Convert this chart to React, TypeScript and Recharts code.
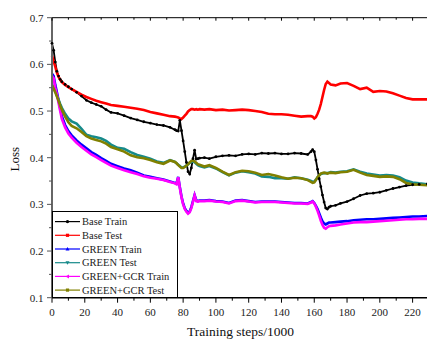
import React from "react";
import { LineChart, Line, XAxis, YAxis, Legend, Label } from "recharts";

// training step (x1000) at which each value was read
const steps = [
  0, 1, 2, 3, 4, 5, 6, 8, 10, 12,
  15, 18, 21, 24, 27, 30, 33, 36, 40, 44,
  48, 52, 56, 60, 64, 68, 72, 75, 76, 77,
  78, 79, 80, 81, 82, 83, 84, 85, 86, 87,
  88, 89, 90, 93, 96, 100, 104, 108, 112, 116,
  120, 124, 128, 132, 136, 140, 144, 148, 152, 156,
  158, 159, 160, 161, 162, 163, 164, 165, 166, 167,
  168, 169, 170, 173, 176, 180, 184, 188, 192, 196,
  200, 204, 208, 212, 216, 220, 224, 229,
];

const baseTrain = [
  0.645, 0.63, 0.605, 0.585, 0.575, 0.568, 0.563, 0.557, 0.552, 0.547,
  0.54, 0.532, 0.523, 0.518, 0.514, 0.51, 0.503, 0.497, 0.495, 0.49,
  0.485, 0.481, 0.477, 0.474, 0.471, 0.469, 0.465, 0.46, 0.458, 0.457,
  0.48, 0.458, 0.436, 0.413, 0.39, 0.37, 0.365, 0.378, 0.398, 0.416,
  0.397, 0.398, 0.399, 0.4, 0.398, 0.402, 0.404, 0.405, 0.404, 0.407,
  0.408, 0.407, 0.41, 0.409, 0.41, 0.408, 0.408, 0.41, 0.409, 0.407,
  0.413, 0.417, 0.413, 0.395, 0.375, 0.355, 0.338, 0.32, 0.305, 0.292,
  0.29, 0.294, 0.296, 0.298, 0.302, 0.306, 0.312, 0.319, 0.323, 0.324,
  0.326, 0.33, 0.334, 0.337, 0.34, 0.342, 0.343, 0.344,
];

const baseTest = [
  0.618, 0.607, 0.595, 0.582, 0.573, 0.567, 0.562, 0.556, 0.551, 0.547,
  0.541, 0.535, 0.53, 0.526, 0.522, 0.519, 0.516, 0.513, 0.511, 0.509,
  0.507, 0.505, 0.502, 0.498, 0.495, 0.492, 0.489, 0.488, 0.487, 0.486,
  0.484, 0.483, 0.486, 0.49, 0.494, 0.499, 0.502, 0.504, 0.504, 0.503,
  0.504, 0.503, 0.504, 0.503, 0.504, 0.502, 0.503, 0.501, 0.502, 0.503,
  0.502, 0.5, 0.498, 0.494, 0.493, 0.493, 0.492, 0.49, 0.488, 0.489,
  0.489, 0.488, 0.484, 0.487, 0.494, 0.503, 0.515, 0.53, 0.545, 0.558,
  0.563, 0.56, 0.557, 0.555, 0.559, 0.56, 0.554, 0.547, 0.55, 0.541,
  0.543, 0.542, 0.538, 0.533, 0.528, 0.525, 0.525, 0.525,
];

const greenTrain = [
  0.58, 0.575, 0.556, 0.54, 0.523, 0.506, 0.489, 0.47, 0.457, 0.448,
  0.437, 0.428, 0.42, 0.412, 0.406, 0.399, 0.393, 0.387, 0.382, 0.377,
  0.373, 0.368, 0.362, 0.359, 0.356, 0.353, 0.349, 0.346, 0.345, 0.359,
  0.337, 0.317, 0.302, 0.292, 0.286, 0.282, 0.285, 0.294, 0.307, 0.32,
  0.309, 0.307, 0.308, 0.308, 0.309, 0.307, 0.306, 0.303, 0.308, 0.309,
  0.307, 0.305, 0.306, 0.306, 0.306, 0.305, 0.304, 0.303, 0.303, 0.302,
  0.305, 0.307, 0.303, 0.297, 0.29, 0.281, 0.272, 0.264, 0.259, 0.257,
  0.259, 0.261, 0.261, 0.262, 0.263, 0.264, 0.266, 0.267, 0.268, 0.268,
  0.269, 0.27, 0.271, 0.272, 0.273, 0.274, 0.274, 0.275,
];

const greenTest = [
  0.557, 0.55, 0.542, 0.533, 0.524, 0.515, 0.507, 0.494, 0.484, 0.478,
  0.473, 0.462, 0.449, 0.446, 0.444, 0.441, 0.436, 0.428, 0.421, 0.419,
  0.412, 0.406, 0.402, 0.398, 0.392, 0.389, 0.395, 0.391, 0.388, 0.385,
  0.382, 0.379, 0.379, 0.381, 0.383, 0.386, 0.389, 0.391, 0.392, 0.39,
  0.387, 0.384, 0.382, 0.379, 0.382, 0.377, 0.369, 0.362, 0.368, 0.371,
  0.369, 0.366, 0.36, 0.359, 0.356, 0.356, 0.355, 0.358, 0.356, 0.353,
  0.35, 0.348, 0.349, 0.353, 0.358, 0.362, 0.365, 0.366, 0.367, 0.367,
  0.367, 0.368, 0.369, 0.368, 0.37, 0.371, 0.375, 0.37, 0.366, 0.364,
  0.362, 0.363, 0.362, 0.358, 0.351, 0.347, 0.345, 0.343,
];

const gcrTrain = [
  0.575, 0.57, 0.55, 0.535, 0.518, 0.5, 0.483, 0.465, 0.452, 0.443,
  0.432, 0.423, 0.415, 0.407, 0.401, 0.395, 0.389, 0.383, 0.378, 0.373,
  0.369, 0.365, 0.36, 0.357, 0.355, 0.352, 0.348, 0.345, 0.343, 0.358,
  0.335, 0.315, 0.3, 0.29, 0.284, 0.28, 0.283, 0.292, 0.305, 0.319,
  0.307, 0.306, 0.307, 0.307, 0.308, 0.306, 0.305, 0.302, 0.307, 0.308,
  0.306, 0.304, 0.305, 0.305, 0.305, 0.304, 0.303, 0.302, 0.302, 0.301,
  0.304, 0.306, 0.302, 0.295, 0.286, 0.276, 0.265, 0.256, 0.25, 0.248,
  0.251, 0.253, 0.254, 0.255, 0.257, 0.259, 0.261, 0.262, 0.262, 0.263,
  0.264, 0.265, 0.266, 0.267, 0.268, 0.268, 0.269, 0.269,
];

const gcrTest = [
  0.555, 0.548, 0.54, 0.531, 0.522, 0.512, 0.503, 0.488, 0.476, 0.468,
  0.463, 0.455, 0.446, 0.441, 0.438, 0.435, 0.43, 0.423, 0.418, 0.413,
  0.405, 0.401, 0.399, 0.395, 0.39, 0.387, 0.394, 0.391, 0.388, 0.384,
  0.381, 0.378, 0.378, 0.38, 0.383, 0.386, 0.39, 0.393, 0.394, 0.392,
  0.389, 0.386, 0.385, 0.381, 0.384, 0.378, 0.37, 0.363, 0.369, 0.372,
  0.371, 0.368, 0.363, 0.365, 0.362, 0.358, 0.355, 0.357, 0.356, 0.352,
  0.348, 0.346, 0.347, 0.352, 0.358, 0.362, 0.366, 0.367, 0.368, 0.367,
  0.366, 0.367, 0.368, 0.367, 0.369, 0.37, 0.374, 0.368, 0.363, 0.361,
  0.359, 0.36, 0.359, 0.354, 0.346, 0.343, 0.342, 0.341,
];

const xTicks = [0, 10, 20, 30, 40, 50, 60, 70, 80, 90, 100, 110, 120, 130, 140, 150, 160, 170, 180, 190, 200, 210, 220, 230];
const yTicks = [0.1, 0.15, 0.2, 0.25, 0.3, 0.35, 0.4, 0.45, 0.5, 0.55, 0.6, 0.65, 0.7];

const series = [
  { key: "baseTrain", name: "Base Train", color: "#000000", marker: "circle", values: baseTrain },
  { key: "baseTest", name: "Base Test", color: "#ff0000", marker: "square", values: baseTest },
  { key: "greenTrain", name: "GREEN Train", color: "#0000ff", marker: "up", values: greenTrain },
  { key: "greenTest", name: "GREEN Test", color: "#168a8a", marker: "down", values: greenTest },
  { key: "gcrTrain", name: "GREEN+GCR Train", color: "#ff00ff", marker: "left", values: gcrTrain },
  { key: "gcrTest", name: "GREEN+GCR Test", color: "#808000", marker: "square", values: gcrTest },
];

const data = steps.map((s, i) => {
  const row: Record<string, number> = { step: s };
  series.forEach((ser) => {
    row[ser.key] = ser.values[i];
  });
  return row;
});

const FONT = "Liberation Serif, Times New Roman, serif";

function BottomTick(props: any) {
  const { x, y, payload } = props;
  const v = payload.value;
  const major = v % 20 === 0;
  return (
    <g>
      <line x1={x} y1={y} x2={x} y2={y + (major ? 5 : 3)} stroke="#000" strokeWidth={1} />
      {major && v <= 220 && (
        <text x={x} y={y + 18.3} textAnchor="middle" style={{ fontFamily: FONT, fontSize: 11 }} fill="#222">
          {v}
        </text>
      )}
    </g>
  );
}

function TopTick(props: any) {
  const { x, y, payload } = props;
  const major = payload.value % 20 === 0;
  return <line x1={x} y1={y} x2={x} y2={y + (major ? 3 : 2)} stroke="#000" strokeWidth={1} />;
}

function LeftTick(props: any) {
  const { x, y, payload } = props;
  const v = payload.value;
  const major = Math.abs(v * 10 - Math.round(v * 10)) < 1e-6;
  return (
    <g>
      <line x1={x} y1={y} x2={x - (major ? 5 : 3)} y2={y} stroke="#555" strokeWidth={1} />
      {major && (
        <text x={x - 8.5} y={y + 3.8} textAnchor="end" style={{ fontFamily: FONT, fontSize: 11 }} fill="#222">
          {v.toFixed(1)}
        </text>
      )}
    </g>
  );
}

function Marker({ kind, x, y, color }: { kind: string; x: number; y: number; color: string }) {
  if (kind === "circle") return <circle cx={x} cy={y} r={1.7} fill={color} />;
  if (kind === "square") return <rect x={x - 1.6} y={y - 1.6} width={3.2} height={3.2} fill={color} />;
  if (kind === "up") return <polygon points={`${x},${y - 2} ${x - 2},${y + 1.5} ${x + 2},${y + 1.5}`} fill={color} />;
  if (kind === "down") return <polygon points={`${x},${y + 2} ${x - 2},${y - 1.5} ${x + 2},${y - 1.5}`} fill={color} />;
  return <polygon points={`${x - 2},${y} ${x + 1.5},${y - 2} ${x + 1.5},${y + 2}`} fill={color} />;
}

function LegendBox() {
  return (
    <svg width={126} height={87} style={{ display: "block" }}>
      <rect x={0.5} y={0.5} width={125} height={86} fill="#fff" stroke="#000" strokeWidth={1} />
      {series.map((s, i) => {
        const cy = 10.6 + i * 13.7;
        return (
          <g key={s.key}>
            <line x1={3} y1={cy} x2={28} y2={cy} stroke={s.color} strokeWidth={1.2} />
            <Marker kind={s.marker} x={15.5} y={cy} color={s.color} />
            <text x={30} y={cy + 3.7} style={{ fontFamily: FONT, fontSize: 10.5 }} fill="#222">
              {s.name}
            </text>
          </g>
        );
      })}
    </svg>
  );
}

export default function App() {
  return (
    <div style={{ position: "absolute", left: 0, top: 0, width: 427, height: 340, overflow: "hidden", background: "#fff" }}>
      <LineChart width={440} height={340} data={data} margin={{ top: 15.7, right: 11, bottom: 12.3, left: 12 }}>
        <XAxis
          xAxisId="b"
          type="number"
          dataKey="step"
          domain={[0, 230]}
          ticks={xTicks}
          interval={0}
          height={30}
          tickSize={0}
          tickMargin={0}
          tickLine={false}
          axisLine={{ stroke: "#000", strokeWidth: 1.5 }}
          tick={<BottomTick />}
        >
          <Label
            content={(p: any) => {
              const vb = p.viewBox;
              return (
                <text x={vb.x + vb.width / 2} y={vb.y + vb.height + 8.5} textAnchor="middle" style={{ fontFamily: FONT, fontSize: 13.5 }} fill="#111">
                  Training steps/1000
                </text>
              );
            }}
          />
        </XAxis>
        <XAxis
          xAxisId="t"
          orientation="top"
          type="number"
          dataKey="step"
          domain={[0, 230]}
          ticks={xTicks}
          interval={0}
          height={2}
          tickSize={0}
          tickMargin={0}
          tickLine={false}
          axisLine={{ stroke: "#000", strokeWidth: 1 }}
          tick={<TopTick />}
        />
        <YAxis
          type="number"
          domain={[0.1, 0.7]}
          ticks={yTicks}
          interval={0}
          width={40}
          tickSize={0}
          tickMargin={0}
          tickLine={false}
          axisLine={{ stroke: "#666", strokeWidth: 2 }}
          tick={<LeftTick />}
        >
          <Label
            content={(p: any) => {
              const vb = p.viewBox;
              const cx = vb.x + 3;
              const cy = vb.y + vb.height / 2 + 1.5;
              return (
                <text x={cx} y={cy} transform={`rotate(-90 ${cx} ${cy})`} textAnchor="middle" dominantBaseline="central" style={{ fontFamily: FONT, fontSize: 13 }} fill="#111">
                  Loss
                </text>
              );
            }}
          />
        </YAxis>
        {series.map((s) => (
          <Line
            key={s.key}
            xAxisId="b"
            type="linear"
            dataKey={s.key}
            name={s.name}
            stroke={s.color}
            strokeWidth={s.key === "baseTrain" ? 1.8 : 2.6}
            dot={s.key === "baseTrain" ? { r: 1.4, fill: "#000", stroke: "none" } : false}
            isAnimationActive={false}
          />
        ))}
        <Legend
          layout="vertical"
          align="center"
          verticalAlign="middle"
          content={() => <LegendBox />}
          wrapperStyle={{ left: 52, top: 211, width: 126, height: 87 }}
        />
      </LineChart>
    </div>
  );
}
